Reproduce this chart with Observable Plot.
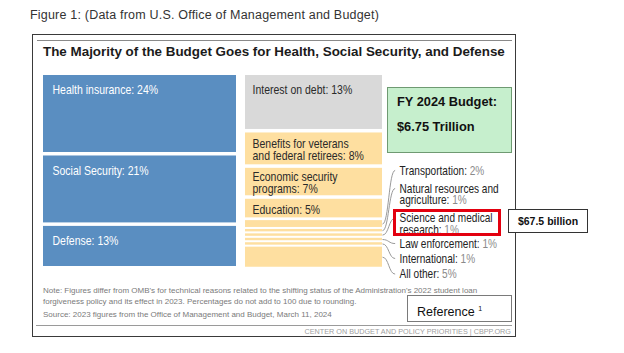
<!DOCTYPE html>
<html>
<head>
<meta charset="utf-8">
<script src="https://cdn.jsdelivr.net/npm/d3@7"></script>
<script src="https://cdn.jsdelivr.net/npm/@observablehq/plot@0.6"></script>
<style>
  html, body { margin: 0; padding: 0; background: #fff; width: 624px; height: 353px; overflow: hidden; }
  body { position: relative; font-family: "Liberation Sans", Arial, sans-serif; }
  .abs { position: absolute; white-space: nowrap; }
  #caption { left: 30px; top: 8px; font-size: 12.5px; letter-spacing: 0.2px; color: #333; }
  #frame { left: 32px; top: 34px; width: 482px; height: 301px; border: 1.5px solid #3a3a3a; background: #fff; }
  #rule1 { left: 37px; top: 40px; width: 475px; height: 1px; background: #8a8a8a; }
  #title { left: 43px; top: 44px; font-weight: bold; font-size: 13.4px; color: #1b1b1b; }
  #green { left: 387px; top: 87px; width: 125px; height: 66px; box-sizing: border-box; background: #c6efcd; border: 1px solid #6f9a72; }
  #green div { position: absolute; left: 9px; font-weight: bold; font-size: 12.8px; color: #111; }
  #redbox { left: 393px; top: 209px; width: 108px; height: 27px; box-sizing: border-box; border: 3px solid #e3000f; z-index: 3; }
  #bill { left: 508px; top: 209px; width: 80px; height: 24px; box-sizing: border-box; border: 1px solid #333; background: #fff; z-index: 3; font-weight: bold; font-size: 10.5px; color: #111; text-align: center; line-height: 22px; }
  .note { left: 43px; font-size: 8px; color: #7a7a7a; }
  #refbox { left: 407px; top: 295px; width: 105px; height: 27px; box-sizing: border-box; border: 1px solid #7a7a7a; background: #fff; font-size: 12.5px; color: #111; padding-left: 9px; line-height: 26px; z-index: 1; }
  #refbox sup { font-size: 7px; vertical-align: 5px; }
  #rule2 { left: 36px; top: 324.5px; width: 476px; height: 1.5px; background: #9a9a9a; }
  #footer { right: 113px; top: 326.5px; font-size: 7.25px; color: #a0a0a0; }
  #chart { position: absolute; left: 0; top: 0; z-index: 2; }
</style>
</head>
<body>
<div id="caption" class="abs">Figure 1: (Data from U.S. Office of Management and Budget)</div>
<div id="frame" class="abs"></div>
<div id="rule1" class="abs"></div>
<div id="title" class="abs">The Majority of the Budget Goes for Health, Social Security, and Defense</div>
<div id="green" class="abs"><div id="g1" style="top:6px"></div><div id="g2" style="top:31px"></div></div>
<div id="redbox" class="abs"></div>
<div id="bill" class="abs"></div>
<div class="abs note" style="top:286px">Note: Figures differ from OMB's for technical reasons related to the shifting status of the Administration's 2022 student loan</div>
<div class="abs note" style="top:297px">forgiveness policy and its effect in 2023. Percentages do not add to 100 due to rounding.</div>
<div class="abs note" style="top:310px">Source: 2023 figures from the Office of Management and Budget, March 11, 2024</div>
<div id="refbox" class="abs">Reference <sup>1</sup></div>
<div id="rule2" class="abs"></div>
<div id="footer" class="abs">CENTER ON BUDGET AND POLICY PRIORITIES | CBPP.ORG</div>
<div id="chart"></div>
<script>
// ---- data ----
const leftNames = ["Health insurance", "Social Security", "Defense"];
const leftValues = [24, 21, 13];
const middleNames = ["Interest on debt", "Benefits for veterans\nand federal retirees", "Economic security\nprograms", "Education"];
const middleValues = [13, 8, 7, 5];
const otherNames = ["Transportation", "Natural resources and\nagriculture", "Science and medical\nresearch", "Law enforcement", "International", "All other"];
const otherValues = [2, 1, 1, 1, 1, 5];
const budgetYear = "FY 2024 Budget:";
const budgetTotal = "$6.75 Trillion";
const scienceAmount = "$67.5 billion";

// ---- layout (annotation anchors, in plot units) ----
const outsideLabelX = 105.8;
const outsideLabelY = [0.497, 0.590, 0.742, 0.873, 0.950, 1.030];

const FONT = '"Liberation Sans", Arial, sans-serif';
const NARROW_SCALE = 0.84;
const BLUE = "#5a8ec1", GREY = "#d9d9d9", BEIGE = "#fedfa0";

document.getElementById("g1").textContent = budgetYear;
document.getElementById("g2").textContent = budgetTotal;
document.getElementById("bill").textContent = scienceAmount;

// build stacked table (normalized within each column)
const leftTotal = d3.sum(leftValues);
const midTotal = d3.sum(middleValues) + d3.sum(otherValues);
function build(names, values, x1, x2, total, start, group) {
  let acc = start;
  return names.map((name, i) => {
    const c = { name, value: values[i], x1, x2, y1: acc / total, y2: (acc + values[i]) / total, group, i };
    acc += values[i];
    return c;
  });
}
const leftCells = build(leftNames, leftValues, 0, leftTotal, leftTotal, 0, "left");
const midCells = build(middleNames, middleValues, leftTotal, leftTotal + midTotal, midTotal, 0, "mid");
const otherCells = build(otherNames, otherValues, leftTotal, leftTotal + midTotal, midTotal, d3.sum(middleValues), "other");
const greyCells = midCells.filter(d => d.i === 0);
const beigeCells = midCells.filter(d => d.i > 0);
const label = d => `${d.name}: ${d.value}%`;

const chart = Plot.plot({
  width: 624, height: 353,
  marginLeft: 43, marginRight: 241.6, marginTop: 73.25, marginBottom: 85.25,
  style: { background: "transparent", overflow: "visible" },
  x: { domain: [0, leftTotal + midTotal], axis: null },
  y: { domain: [0, 1], reverse: true, axis: null },
  marks: [
    Plot.rect(leftCells, { x1: "x1", x2: "x2", y1: "y1", y2: "y2", fill: BLUE, insetTop: 1.75, insetBottom: 1.75 }),
    Plot.rect(greyCells, { x1: "x1", x2: "x2", y1: "y1", y2: "y2", fill: GREY, insetLeft: 9, insetRight: 0.4, insetTop: 1.75, insetBottom: 1.75 }),
    Plot.rect(beigeCells, { x1: "x1", x2: "x2", y1: "y1", y2: "y2", fill: BEIGE, insetLeft: 9, insetRight: 0.4, insetTop: 1.75, insetBottom: 1.75 }),
    Plot.rect(otherCells, { x1: "x1", x2: "x2", y1: "y1", y2: "y2", fill: BEIGE, insetLeft: 9, insetRight: 0.4, insetTop: 1, insetBottom: 1 }),
    Plot.text(leftCells, { x: "x1", y: "y1", text: label, dx: 9, dy: 11.5, lineAnchor: "top", textAnchor: "start", fill: "white", fontSize: 12.5, fontFamily: FONT }),
    Plot.text(greyCells, { x: "x1", y: "y1", text: label, dx: 16, dy: 11.5, lineAnchor: "top", textAnchor: "start", fill: "#2a2a2a", fontSize: 12.5, fontFamily: FONT }),
    Plot.text(beigeCells, { x: "x1", y: d => (d.y1 + d.y2) / 2, text: label, dx: 16, dy: 1.5, lineAnchor: "middle", textAnchor: "start", fill: "#2a2a2a", fontSize: 12.5, lineHeight: 0.96, fontFamily: FONT }),
    Plot.link(otherCells, { x1: "x2", y1: d => (d.y1 + d.y2) / 2, x2: () => outsideLabelX, y2: d => outsideLabelY[d.i], curve: "bump-x", stroke: "#9a9a9a", strokeWidth: 1, dx: -0.4 }),
    Plot.text(otherCells, { x: () => outsideLabelX, y: d => outsideLabelY[d.i], text: label, dx: 4, dy: -4.2, lineAnchor: "top", textAnchor: "start", fill: "#222", fontSize: 12, lineHeight: 0.98, fontFamily: FONT, ariaLabel: () => "outside" })
  ]
});
document.getElementById("chart").appendChild(chart);

// condensed look: squeeze every label horizontally about its anchor
chart.querySelectorAll("text").forEach(t => {
  let tr = t.getAttribute("transform");
  if (!tr) {
    const x = +(t.getAttribute("x") || 0), y = +(t.getAttribute("y") || 0);
    t.removeAttribute("x"); t.removeAttribute("y");
    tr = `translate(${x},${y})`;
  }
  t.setAttribute("transform", `${tr} scale(${NARROW_SCALE},1)`);
});

// grey percentages in the outside labels
chart.querySelectorAll('text[aria-label="outside"]').forEach(t => {
  const spans = t.querySelectorAll("tspan");
  const el = spans.length ? spans[spans.length - 1] : t;
  const s = el.textContent;
  const k = s.lastIndexOf(" ");
  el.textContent = s.slice(0, k + 1);
  const p = document.createElementNS("http://www.w3.org/2000/svg", "tspan");
  p.setAttribute("fill", "#8a8a8a");
  p.textContent = s.slice(k + 1);
  el.appendChild(p);
});
</script>
</body>
</html>
